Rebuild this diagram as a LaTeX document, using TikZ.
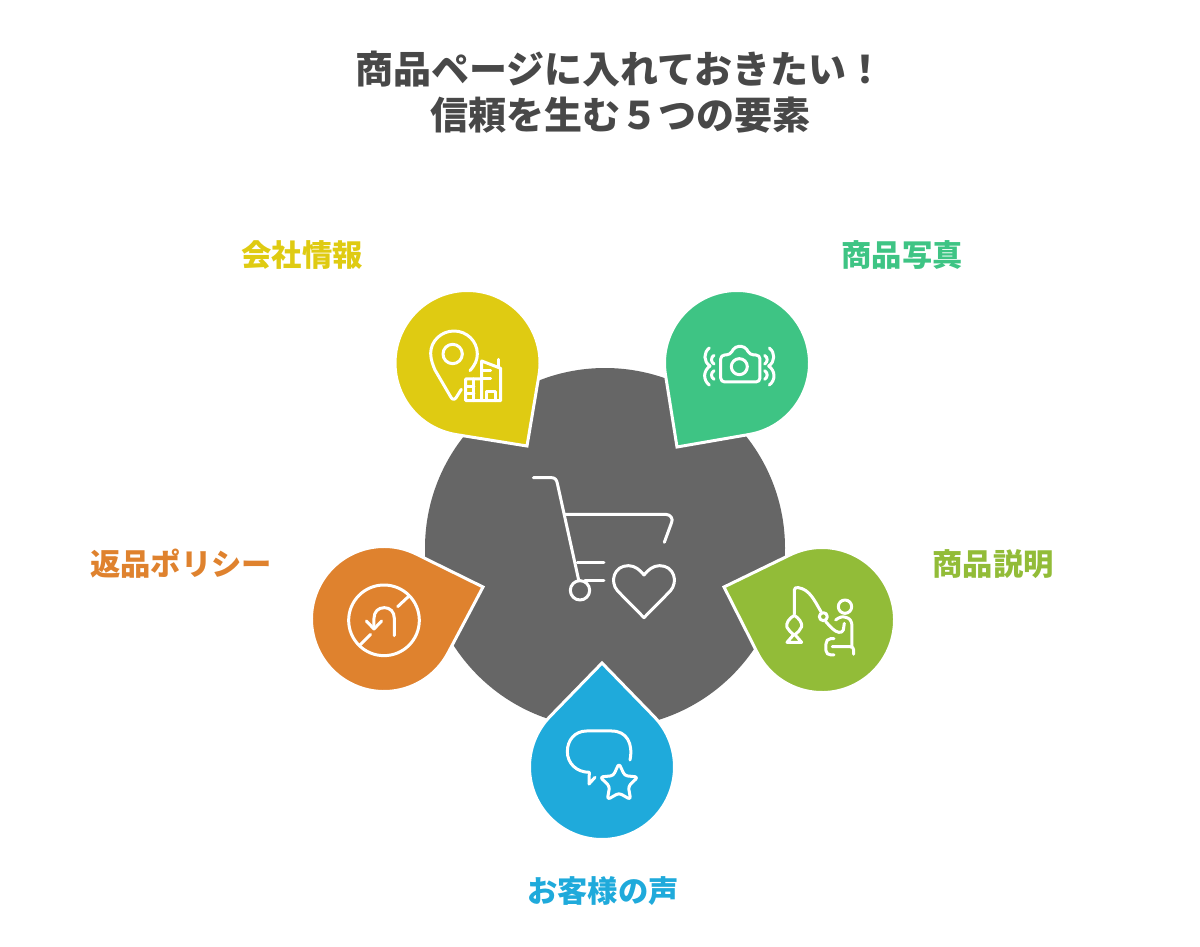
\documentclass[tikz,border=0pt]{standalone}
\usepackage{fontspec}
\setmainfont{Noto Sans CJK JP}
\usetikzlibrary{calc}
\definecolor{hubgray}{HTML}{666666}
\definecolor{titlegray}{HTML}{484848}
\definecolor{infoyellow}{HTML}{DFCB12}
\definecolor{photogreen}{HTML}{3EC484}
\definecolor{textolive}{HTML}{92BC38}
\definecolor{voiceblue}{HTML}{1FAADB}
\definecolor{policyorange}{HTML}{DF822E}
\tikzset{
    title node/.style={font=\fontsize{38}{46}\selectfont\bfseries, text=titlegray, align=center, inner sep=0},
    label node/.style={font=\fontsize{30.3}{36}\selectfont\bfseries, inner sep=0},
    icon/.style={draw=white, line width=3pt, line cap=round, line join=round},
}
% centre, tip, colour
\newcommand{\dropshape}[3]{
    \filldraw[fill=#3, draw=white, line width=3pt, miter limit=10]
        let \p1=($(#2)-(#1)$), \n1={atan2(\y1,\x1)}, \n2={acos(72.5/veclen(\x1,\y1))} in
        (#2) -- ($(#1)+(\n1+\n2:72.5pt)$) arc[start angle=\n1+\n2, end angle=\n1+360-\n2, radius=72.5pt] -- cycle;
}
\begin{document}
\begin{tikzpicture}[x=1pt, y=-1pt]
    \useasboundingbox (0,0) rectangle (1200,947);

    \node[title node] at (620,92) (title) {商品ページに入れておきたい！\\信頼を生む５つの要素};

    \node[circle, fill=hubgray, minimum size=360pt, inner sep=0] at (605,548) (hub) {};

    \dropshape{467.5,363}{527,446}{infoyellow}
    \dropshape{737,363}{677,447}{photogreen}
    \dropshape{822,620}{724,587}{textolive}
    \dropshape{602,767}{602,663}{voiceblue}
    \dropshape{384,619}{483,587}{policyorange}

    \node[label node, text=infoyellow] at (302,255) (info) {会社情報};
    \node[label node, text=photogreen] at (902,255) (photo) {商品写真};
    \node[label node, text=textolive] at (993,564) (text) {商品説明};
    \node[label node, text=voiceblue] at (603,891) (voice) {お客様の声};
    \node[label node, text=policyorange] at (181,564) (policy) {返品ポリシー};

    % cart
    \begin{scope}[shift={(520,465)}, x=0.3333pt, y=-0.3333pt]
        \draw[icon] (40,38) -- (95,38) .. controls (105,38) and (110,45) .. (112,55) -- (176,345);
        \draw[icon] (135,148) -- (437,148) .. controls (452,148) and (460,162) .. (455,172) -- (433,232);
        \draw[icon] (172,293) -- (252,293);
        \draw[icon] (195,347) -- (252,347);
        \draw[icon] (180,376) circle[radius=29];
        \draw[icon] (372,458) -- (293,378) .. controls (268,350) and (282,302) .. (325,302)
            .. controls (345,302) and (360,315) .. (372,330)
            .. controls (384,315) and (399,302) .. (419,302)
            .. controls (462,302) and (476,350) .. (451,378) -- cycle;
    \end{scope}

    % map pin and buildings
    \begin{scope}[shift={(380,280)}, x=0.3333pt, y=-0.3333pt]
        \draw[icon] (218,222) circle[radius=29];
        \draw[icon] (270,272) .. controls (285,255) and (292,240) .. (292,222)
            .. controls (292,183) and (260,153) .. (222,153)
            .. controls (184,153) and (152,183) .. (152,220)
            .. controls (152,240) and (160,258) .. (165,270) -- (213,352)
            .. controls (218,360) and (224,360) .. (229,352) -- (244,328);
        \draw[icon] (305,297) -- (257,297) -- (257,362) -- (362,362) -- (362,265) -- (305,243) -- (305,362);
        \draw[icon] (355,238) -- (355,262);
        \draw[icon] (257,320) -- (282,320);
        \draw[icon] (257,340) -- (282,340);
        \draw[icon] (282,297) -- (282,362);
        \draw[icon] (305,272) -- (332,272);
        \draw[icon] (305,295) -- (332,295);
        \draw[icon] (320,362) -- (320,335) -- (348,335) -- (348,362);
    \end{scope}

    % shaking camera
    \begin{scope}[shift={(650,280)}, x=0.3333pt, y=-0.3333pt]
        \draw[icon, rounded corners=4pt] (212,225) -- (240,225) -- (255,199) -- (285,199) -- (300,225) -- (330,225) -- (330,306) -- (212,306) -- cycle;
        \draw[icon] (268,260) circle[radius=24];
        \draw[icon] (178,204) .. controls (160,218) and (160,245) .. (180,258) .. controls (160,272) and (158,300) .. (178,315);
        \draw[icon] (192,226) .. controls (182,232) and (182,246) .. (192,252);
        \draw[icon] (192,272) .. controls (182,278) and (182,292) .. (192,298);
        \draw[icon] (358,204) .. controls (376,218) and (376,245) .. (356,258) .. controls (376,272) and (378,300) .. (358,315);
        \draw[icon] (344,226) .. controls (354,232) and (354,246) .. (344,252);
        \draw[icon] (344,272) .. controls (354,278) and (354,292) .. (344,298);
    \end{scope}

    % angler
    \begin{scope}[shift={(715,540)}, x=0.3333pt, y=-0.3333pt]
        \draw[icon] (238,222) -- (238,150) .. controls (238,143) and (243,142) .. (250,143)
            .. controls (285,148) and (300,185) .. (318,215);
        \draw[icon] (238,226) .. controls (222,235) and (212,250) .. (216,262) .. controls (220,272) and (230,278) .. (236,284)
            -- (216,307) -- (260,307) -- (240,284) .. controls (248,278) and (256,270) .. (260,260) .. controls (262,248) and (252,235) .. (238,226);
        \draw[icon] (325,230) circle[radius=12];
        \draw[icon] (390,200) circle[radius=20];
        \draw[icon] (332,245) -- (352,266) .. controls (365,278) and (380,282) .. (385,270) -- (388,250);
        \draw[icon] (362,240) .. controls (372,232) and (382,228) .. (392,232) .. controls (405,234) and (411,245) .. (411,258) -- (411,318);
        \draw[icon] (357,296) -- (347,296) .. controls (338,296) and (333,303) .. (333,312) -- (333,332) .. controls (333,340) and (340,345) .. (348,345) -- (357,345);
        \draw[icon] (352,320) -- (405,320) .. controls (412,320) and (416,323) .. (416,330) -- (416,343);
    \end{scope}

    % bubble and star
    \begin{scope}[shift={(520,655)}, x=0.3333pt, y=-0.3333pt]
        \draw[icon] (330,315) .. controls (340,265) and (320,228) .. (275,228) -- (200,228)
            .. controls (165,228) and (142,255) .. (142,290) .. controls (142,325) and (170,352) .. (208,352)
            -- (207,387) -- (225,367);
        \draw[icon, rounded corners=3pt] (297,325) -- (314,362) -- (354,366) -- (325,394) -- (332,434) -- (297,414)
            -- (262,434) -- (269,394) -- (240,366) -- (280,362) -- cycle;
    \end{scope}

    % no u-turn
    \begin{scope}[shift={(305,540)}, x=0.3333pt, y=-0.3333pt]
        \draw[icon] (237,241) circle[radius=106];
        \draw[icon] (165,315) -- (197,283);
        \draw[icon] (278,200) -- (310,170);
        \draw[icon] (268,287) -- (268,235) .. controls (268,215) and (255,203) .. (238,203)
            .. controls (220,203) and (207,215) .. (207,235) -- (207,265);
        \draw[icon] (184,243) -- (207,267) -- (230,243);
    \end{scope}
\end{tikzpicture}
\end{document}
